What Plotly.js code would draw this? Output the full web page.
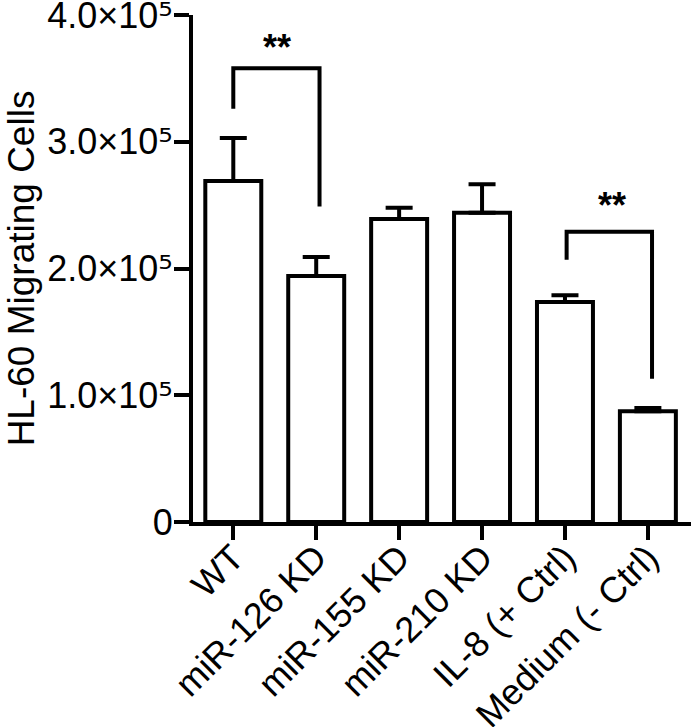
<!DOCTYPE html>
<html>
<head>
<meta charset="utf-8">
<script src="https://cdn.plot.ly/plotly-3.0.1.min.js"></script>
<style>
  html, body { margin: 0; padding: 0; background: #fff; }
</style>
</head>
<body>
<div id="chart" style="width:700px;height:727px;"></div>
<script>
// Data
const categories = ["WT", "miR-126 KD", "miR-155 KD", "miR-210 KD", "IL-8 (+ Ctrl)", "Medium (- Ctrl)"];
const migratingCells = [269000, 194000, 239000, 244000, 173600, 87400];
const errorUpper = [34000, 15000, 9000, 22500, 5300, 2600];

const yTickVals = [0, 100000, 200000, 300000, 400000];
const sup5 = "<span style=\"font-family:'DejaVu Sans'\">⁵</span>";
const yTickText = ["0", "1.0×10" + sup5, "2.0×10" + sup5, "3.0×10" + sup5, "4.0×10" + sup5];

// Significance brackets (category index, value)
const bracket1X = [0, 0, 1.04, 1.04];
const bracket1Y = [326000, 358000, 358000, 249000];
const bracket2X = [4.02, 4.02, 5.05, 5.05];
const bracket2Y = [207000, 229000, 229000, 113000];
const starLabels = ["**", "**"];
const starX = [0.53, 4.57];
const starY = [374000, 250000];

const idx = categories.map((c, i) => i);
const font = "Liberation Sans, Arial, Helvetica, sans-serif";

const traces = [
  {
    type: "bar",
    x: idx,
    y: migratingCells,
    width: 0.675,
    marker: { color: "#ffffff", line: { color: "#000000", width: 4 } },
    error_y: {
      type: "data", array: errorUpper, arrayminus: errorUpper.map(() => 0),
      symmetric: false, color: "#000000", thickness: 4, width: 13.5
    },
    hoverinfo: "skip",
    showlegend: false
  },
  {
    type: "scatter", mode: "lines", x: bracket1X, y: bracket1Y,
    line: { color: "#000000", width: 4 }, showlegend: false, hoverinfo: "skip"
  },
  {
    type: "scatter", mode: "lines", x: bracket2X, y: bracket2Y,
    line: { color: "#000000", width: 4 }, showlegend: false, hoverinfo: "skip"
  }
];

const annotations = starLabels.map((s, i) => ({
  x: starX[i], y: starY[i], xref: "x", yref: "y", text: s, showarrow: false,
  font: { family: font, size: 36, color: "#000000", weight: "bold" },
  xanchor: "center", yanchor: "middle"
}));

const layout = {
  width: 700, height: 727,
  margin: { l: 193, r: 9, t: 15, b: 205 },
  paper_bgcolor: "#ffffff", plot_bgcolor: "#ffffff",
  font: { family: font, color: "#000000", size: 36 },
  bargap: 0,
  xaxis: {
    range: [-0.486, 5.52],
    tickmode: "array", tickvals: idx, ticktext: categories,
    tickangle: -45,
    ticks: "outside", ticklen: 14, tickwidth: 4, tickcolor: "#000000",
    showline: true, linecolor: "#000000", linewidth: 4,
    showgrid: false, zeroline: false, fixedrange: true,
    ticklabeloverflow: "allow",
    ticklabelstandoff: -18,
    tickfont: { family: font, size: 36, color: "#000000" }
  },
  yaxis: {
    range: [0, 400000],
    tickmode: "array", tickvals: yTickVals, ticktext: yTickText,
    ticks: "outside", ticklen: 15, tickwidth: 4, tickcolor: "#000000",
    showline: true, linecolor: "#000000", linewidth: 4,
    showgrid: false, zeroline: false, fixedrange: true,
    ticklabeloverflow: "allow",
    ticklabelstandoff: -6,
    tickfont: { family: font, size: 36, color: "#000000" },
    title: { text: "HL-60 Migrating Cells", font: { family: font, size: 37, color: "#000000" }, standoff: 2 }
  },
  annotations: annotations,
  showlegend: false
};

Plotly.newPlot("chart", traces, layout, { staticPlot: true, displayModeBar: false });
</script>
</body>
</html>
